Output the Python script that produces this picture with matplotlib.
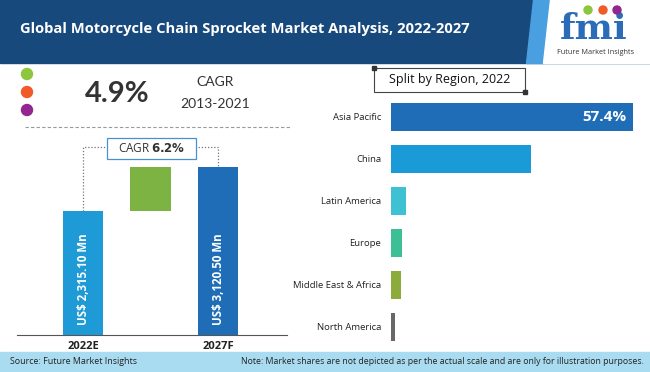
import matplotlib
matplotlib.use("Agg")
import matplotlib.pyplot as plt
from matplotlib.patches import Rectangle, Polygon, Circle

# data
years = ["2022E", "2027F"]
market_values = [2315.10, 3120.50]
value_labels = ["US$ 2,315.10 Mn", "US$ 3,120.50 Mn"]
cagr_hist = "4.9%"
cagr_hist_period = "2013-2021"
cagr_fore = "6.2%"

regions = ["Asia Pacific", "China", "Latin America", "Europe",
           "Middle East & Africa", "North America"]
shares = [57.4, 33.2, 3.5, 2.6, 2.3, 1.0]
region_colors = ["#1f6db6", "#1a9ad7", "#3ec1d3", "#3dbf96", "#8cab3c", "#686868"]

W, H = 650, 372
plt.rcParams['font.family'] = ['Open Sans', 'DejaVu Sans']

fig = plt.figure(figsize=(W / 100, H / 100), dpi=100)
fig.patch.set_facecolor("white")

# overlay in pixel coords (y down)
bg = fig.add_axes([0, 0, 1, 1])
bg.set_xlim(0, W)
bg.set_ylim(H, 0)
bg.axis("off")

# header
bg.add_patch(Rectangle((0, 0), W, 63, color="#17497c", zorder=0))
bg.add_patch(Polygon([(533, 0), (W, 0), (W, 63), (526, 63)], color="#4a9fe0", zorder=1))
bg.add_patch(Polygon([(550, 0), (W, 0), (W, 63), (543, 63)], color="white", zorder=2))
bg.text(20, 29, "Global Motorcycle Chain Sprocket Market Analysis, 2022-2027",
        color="white", fontsize=10.6, fontweight="bold", va="center", ha="left")

# logo
bg.text(594, 29, "fmi", color="#2a6cb8", fontsize=26, fontweight="bold",
        ha="center", va="center", family="DejaVu Serif", zorder=3)
for cx, c in zip([588, 603, 617], ["#8dc63f", "#f15a29", "#92278f"]):
    bg.add_patch(Circle((cx, 10), 4, color=c, zorder=4))
bg.text(596, 53, "Future Market Insights", color="#333333", fontsize=5.2,
        ha="center", va="center", zorder=3)

# footer
bg.add_patch(Rectangle((0, 352), W, 20, color="#a9dcf1", zorder=0))
bg.text(10, 362, "Source: Future Market Insights", fontsize=6.4, color="#222222",
        va="center", ha="left")
bg.text(644, 362, "Note: Market shares are not depicted as per the actual scale and are only for illustration purposes.",
        fontsize=6.3, color="#222222", va="center", ha="right")

# historic CAGR block
for cy, c in zip([74, 92, 110], ["#8dc63f", "#f15a29", "#92278f"]):
    bg.add_patch(Circle((27, cy), 5.5, color=c, zorder=3))
bg.text(117, 94, cagr_hist, fontsize=21, fontweight="bold", color="#333333",
        ha="center", va="center", family=["Lato", "DejaVu Sans"])
bg.text(215, 82, "CAGR", fontsize=10, color="#333333", ha="center", va="center",
        family=["Lato", "DejaVu Sans"])
bg.text(215, 104, cagr_hist_period, fontsize=10, color="#333333", ha="center",
        va="center", family=["Lato", "DejaVu Sans"])
bg.plot([25, 290], [127, 127], ls=(0, (3, 2)), color="#999999", lw=0.8)

# left bar chart
axl = fig.add_axes([17 / W, (H - 335) / H, 270 / W, 205 / H])
axl.patch.set_alpha(0)
axl.set_xlim(-0.98, 3.02)
axl.set_ylim(0, 3817)
axl.bar(0, market_values[0], width=0.6, color="#1e9ad7")
axl.bar(2, market_values[1], width=0.6, color="#1f6db6")
axl.bar(1, market_values[1] - market_values[0], bottom=market_values[0],
        width=0.6, color="#7cb342")
for xi, lab in zip([0, 2], value_labels):
    axl.text(xi, 180, lab, rotation=90, color="white", fontsize=8.3,
             fontweight="bold", ha="center", va="bottom")
for s in ["top", "right", "left"]:
    axl.spines[s].set_visible(False)
axl.spines["bottom"].set_color("#555555")
axl.set_yticks([])
axl.set_xticks([0, 2])
axl.set_xticklabels(years, fontsize=8, fontweight="bold", color="#222222")
axl.tick_params(axis="x", length=0, pad=4)

# CAGR bracket
yb = 3500
dot = dict(ls=(0, (1, 1.5)), color="#777777", lw=0.9, clip_on=False)
axl.plot([0, 0, 0.35], [market_values[0], yb, yb], **dot)
axl.plot([1.65, 2, 2], [yb, yb, market_values[1]], **dot)
axl.add_patch(Rectangle((107, 138), 89, 21, fc="white", ec="#4a8fd0", lw=0.9,
                        transform=bg.transData, clip_on=False, zorder=5))
axl.text(151.5, 148.5, "CAGR $\\bf{" + cagr_fore.replace("%", "\\%") + "}$", fontsize=8.5,
         color="#333333", ha="center", va="center", transform=bg.transData, zorder=6)

# right bar chart
axr = fig.add_axes([391 / W, (H - 348) / H, 249 / W, 252 / H])
axr.patch.set_alpha(0)
axr.set_xlim(0, 249 / 4.216)
axr.set_ylim(len(regions) - 0.5, -0.5)
axr.barh(range(len(regions)), shares, height=0.667, color=region_colors)
axr.text(shares[0] - 1.5, 0, f"{shares[0]}%", color="white", fontsize=11,
         fontweight="bold", ha="right", va="center")
axr.set_yticks(range(len(regions)))
axr.set_yticklabels(regions, fontsize=6.8, color="#222222")
axr.tick_params(axis="y", length=0, pad=7)
axr.set_xticks([])
for s in axr.spines.values():
    s.set_visible(False)

# split-by-region title box
bg.add_patch(Rectangle((374, 68), 151, 24, fill=False, ec="#444444", lw=0.8))
bg.add_patch(Rectangle((372, 66), 4, 4, color="#333333"))
bg.add_patch(Rectangle((523, 90), 4, 4, color="#333333"))
bg.text(449.5, 80, "Split by Region, 2022", fontsize=9, color="#111111",
        ha="center", va="center")

fig.savefig("out.png", dpi=100)
